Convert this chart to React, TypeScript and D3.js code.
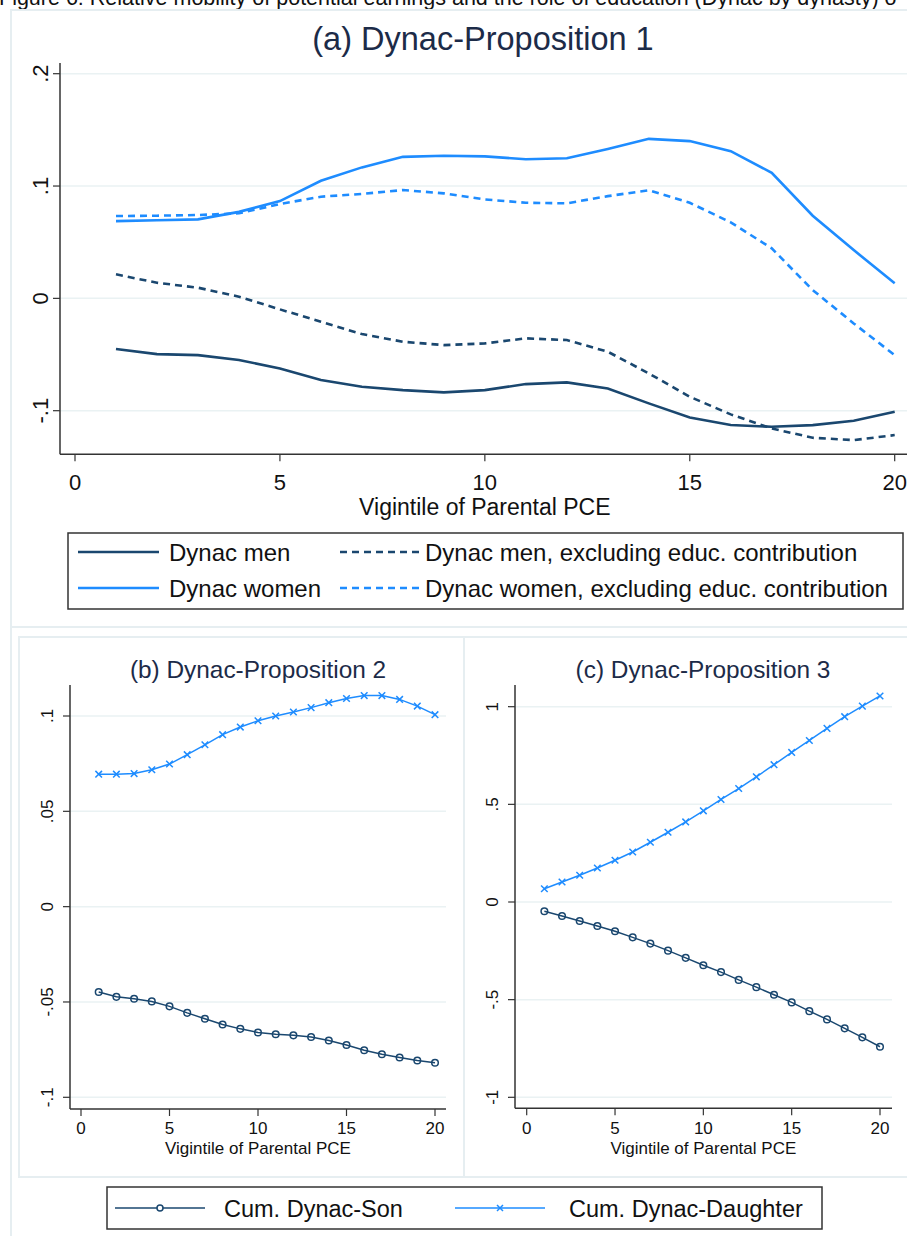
import React from "react";
import * as d3 from "d3";

const vigintiles = d3.range(1, 21);

// Panel (a)
const menA = [-0.0451, -0.0496, -0.0505, -0.0549, -0.0624, -0.0727, -0.0787, -0.0817, -0.0837, -0.0817, -0.0763, -0.0748, -0.0802, -0.0935, -0.106, -0.1128, -0.1143, -0.1128, -0.109, -0.101];
const menExA = [0.0214, 0.0139, 0.0095, 0.0015, -0.0098, -0.0208, -0.0318, -0.0386, -0.0416, -0.0401, -0.0356, -0.0371, -0.0475, -0.0668, -0.0876, -0.1033, -0.1158, -0.1241, -0.1262, -0.1217];
const womenA = [0.0688, 0.0695, 0.0703, 0.077, 0.0866, 0.1047, 0.1166, 0.126, 0.127, 0.1264, 0.1238, 0.1247, 0.133, 0.142, 0.14, 0.131, 0.1118, 0.0736, 0.043, 0.0134];
const womenExA = [0.0733, 0.0736, 0.0742, 0.0757, 0.084, 0.0905, 0.093, 0.0964, 0.0935, 0.0881, 0.0851, 0.0846, 0.091, 0.0962, 0.0851, 0.0677, 0.0445, 0.0074, -0.0223, -0.0505];

// Panel (b)
const sonB = [-0.0448, -0.0473, -0.0483, -0.0497, -0.0523, -0.0557, -0.0588, -0.0618, -0.0641, -0.066, -0.0669, -0.0675, -0.0684, -0.0702, -0.0726, -0.0753, -0.0774, -0.0791, -0.0807, -0.0819];
const daughterB = [0.0695, 0.0695, 0.0698, 0.0718, 0.0748, 0.0797, 0.0849, 0.0902, 0.0942, 0.0975, 0.1, 0.1021, 0.1044, 0.107, 0.1092, 0.1107, 0.1107, 0.1087, 0.1052, 0.1007];

// Panel (c)
const sonC = [-0.0477, -0.0716, -0.097, -0.123, -0.15, -0.181, -0.213, -0.249, -0.286, -0.324, -0.359, -0.399, -0.436, -0.475, -0.514, -0.559, -0.601, -0.647, -0.693, -0.741];
const daughterC = [0.068, 0.1026, 0.137, 0.174, 0.214, 0.256, 0.306, 0.357, 0.41, 0.467, 0.525, 0.581, 0.641, 0.703, 0.766, 0.827, 0.889, 0.949, 1.003, 1.055];

const xTicks = [0, 5, 10, 15, 20];
const yTicksA = [-0.1, 0, 0.1, 0.2];
const yTickLabelsA = ["-.1", "0", ".1", ".2"];
const yTicksB = [-0.1, -0.05, 0, 0.05, 0.1];
const yTickLabelsB = ["-.1", "-.05", "0", ".05", ".1"];
const yTicksC = [-1, -0.5, 0, 0.5, 1];
const yTickLabelsC = ["-1", "-.5", "0", ".5", "1"];

const NAVY = "#1a476f";
const BLUE = "#1e8cff";
const GRID = "#eaf2f3";
const FRAME = "#e6eef1";
const FONT = "'Liberation Sans', Arial, sans-serif";
const TITLE = "#1c2b48";

type PanelProps = {
  title: string;
  titleX: number;
  titleY: number;
  titleSize: number;
  x: d3.ScaleLinear<number, number>;
  y: d3.ScaleLinear<number, number>;
  axisLeft: number;
  axisBottom: number;
  axisTop: number;
  axisRight: number;
  yTicks: number[];
  yLabels: string[];
  tickFont: number;
  ylabX: number;
  xlabY: number;
  axisTitleY: number;
  axisTitleSize: number;
  children?: React.ReactNode;
};

function Panel(p: PanelProps) {
  return (
    <g>
      <text x={p.titleX} y={p.titleY} textAnchor="middle" fontSize={p.titleSize} fill={TITLE} fontFamily={FONT}>{p.title}</text>
      {p.yTicks.map((t, i) => (
        <g key={"g" + i}>
          <line x1={p.axisLeft} x2={p.axisRight} y1={p.y(t)} y2={p.y(t)} stroke={GRID} strokeWidth={1.5} />
          <line x1={p.axisLeft - 7} x2={p.axisLeft} y1={p.y(t)} y2={p.y(t)} stroke="#333" strokeWidth={1.2} />
          <text transform={`translate(${p.ylabX},${p.y(t)}) rotate(-90)`} textAnchor="middle" fontSize={p.tickFont} fill="#111" fontFamily={FONT}>{p.yLabels[i]}</text>
        </g>
      ))}
      {xTicks.map((t) => (
        <g key={"x" + t}>
          <line x1={p.x(t)} x2={p.x(t)} y1={p.axisBottom} y2={p.axisBottom + 7} stroke="#333" strokeWidth={1.2} />
          <text x={p.x(t)} y={p.xlabY} textAnchor="middle" fontSize={p.tickFont} fill="#111" fontFamily={FONT}>{t}</text>
        </g>
      ))}
      <line x1={p.axisLeft} x2={p.axisLeft} y1={p.axisTop} y2={p.axisBottom} stroke="#333" strokeWidth={1.5} />
      <line x1={p.axisLeft} x2={p.axisRight} y1={p.axisBottom} y2={p.axisBottom} stroke="#333" strokeWidth={1.5} />
      <text x={(p.x(0) + p.x(20)) / 2} y={p.axisTitleY} textAnchor="middle" fontSize={p.axisTitleSize} fill="#111" fontFamily={FONT}>Vigintile of Parental PCE</text>
      {p.children}
    </g>
  );
}

function XMark({ cx, cy, s, color }: { cx: number; cy: number; s: number; color: string }) {
  return (
    <path d={`M${cx - s},${cy - s}L${cx + s},${cy + s}M${cx - s},${cy + s}L${cx + s},${cy - s}`} stroke={color} strokeWidth={1.5} fill="none" />
  );
}

export default function App() {
  const xA = d3.scaleLinear().domain([0, 20]).range([75, 894.7]);
  const yA = d3.scaleLinear().domain([-0.1, 0.2]).range([410.7, 73.7]);
  const lineA = (vals: number[]) =>
    d3.line<number>().x((_, i) => xA(vigintiles[i])).y((d) => yA(d))(vals) || "";

  const xB = d3.scaleLinear().domain([0, 20]).range([81, 435]);
  const yB = d3.scaleLinear().domain([-0.1, 0.1]).range([1097.3, 716]);
  const lineB = (vals: number[]) =>
    d3.line<number>().x((_, i) => xB(vigintiles[i])).y((d) => yB(d))(vals) || "";

  const xC = d3.scaleLinear().domain([0, 20]).range([526.7, 880]);
  const yC = d3.scaleLinear().domain([-1, 1]).range([1097.3, 706.7]);
  const lineC = (vals: number[]) =>
    d3.line<number>().x((_, i) => xC(vigintiles[i])).y((d) => yC(d))(vals) || "";

  const legendA = [
    { label: "Dynac men", color: NAVY, dash: "", x: 78, tx: 169, y: 552 },
    { label: "Dynac women", color: BLUE, dash: "", x: 78, tx: 169, y: 588 },
    { label: "Dynac men, excluding educ. contribution", color: NAVY, dash: "7,5", x: 340, tx: 425, y: 552 },
    { label: "Dynac women, excluding educ. contribution", color: BLUE, dash: "7,5", x: 340, tx: 425, y: 588 },
  ];

  return (
    <svg width={907} height={1236} style={{ position: "absolute", left: 0, top: 0, background: "#fff" }} fontFamily={FONT}>
      <rect x={0} y={0} width={907} height={1236} fill="#fff" />
      <text x={-1} y={5} fontSize={21.5} fill="#111" fontFamily={FONT}>Figure 6: Relative mobility of potential earnings and the role of education (Dynac by dynasty) o</text>

      {/* frames */}
      <rect x={11} y={10} width={920} height={617} fill="#fff" stroke={FRAME} strokeWidth={2} />
      <rect x={11} y={627} width={920} height={640} fill="#fff" stroke={FRAME} strokeWidth={2} />
      <rect x={19} y={637} width={445} height={540} fill="#fff" stroke={FRAME} strokeWidth={2} />
      <rect x={464} y={637} width={460} height={540} fill="#fff" stroke={FRAME} strokeWidth={2} />

      {/* Panel a */}
      <Panel title="(a) Dynac-Proposition 1" titleX={483} titleY={50} titleSize={32.5} x={xA} y={yA}
        axisLeft={60} axisBottom={454.3} axisTop={63} axisRight={910} yTicks={yTicksA} yLabels={yTickLabelsA}
        tickFont={22} ylabX={48} xlabY={490} axisTitleY={515} axisTitleSize={23}>
        <path d={lineA(menA)} stroke={NAVY} strokeWidth={2.6} fill="none" />
        <path d={lineA(menExA)} stroke={NAVY} strokeWidth={2.6} fill="none" strokeDasharray="7,5" />
        <path d={lineA(womenA)} stroke={BLUE} strokeWidth={2.6} fill="none" />
        <path d={lineA(womenExA)} stroke={BLUE} strokeWidth={2.6} fill="none" strokeDasharray="7,5" />
      </Panel>

      {/* Legend a */}
      <rect x={68} y={533} width={835} height={76} fill="#fff" stroke="#333" strokeWidth={1.5} />
      {legendA.map((l) => (
        <g key={l.label}>
          <line x1={l.x} x2={l.x + 81} y1={l.y} y2={l.y} stroke={l.color} strokeWidth={2.6} strokeDasharray={l.dash || undefined} />
          <text x={l.tx} y={l.y + 8.5} fontSize={24} fill="#111" fontFamily={FONT}>{l.label}</text>
        </g>
      ))}

      {/* Panel b */}
      <Panel title="(b) Dynac-Proposition 2" titleX={258} titleY={678} titleSize={24.4} x={xB} y={yB}
        axisLeft={70} axisBottom={1109} axisTop={685} axisRight={446} yTicks={yTicksB} yLabels={yTickLabelsB}
        tickFont={17} ylabX={53} xlabY={1134} axisTitleY={1154} axisTitleSize={17}>
        <path d={lineB(daughterB)} stroke={BLUE} strokeWidth={1.5} fill="none" />
        {daughterB.map((v, i) => <XMark key={"bd" + i} cx={xB(vigintiles[i])} cy={yB(v)} s={3.3} color={BLUE} />)}
        <path d={lineB(sonB)} stroke={NAVY} strokeWidth={1.5} fill="none" />
        {sonB.map((v, i) => <circle key={"bs" + i} cx={xB(vigintiles[i])} cy={yB(v)} r={3.3} stroke={NAVY} strokeWidth={1.5} fill="none" />)}
      </Panel>

      {/* Panel c */}
      <Panel title="(c) Dynac-Proposition 3" titleX={703} titleY={678} titleSize={24.4} x={xC} y={yC}
        axisLeft={515} axisBottom={1108.3} axisTop={685} axisRight={892} yTicks={yTicksC} yLabels={yTickLabelsC}
        tickFont={17} ylabX={498} xlabY={1134} axisTitleY={1154} axisTitleSize={17}>
        <path d={lineC(daughterC)} stroke={BLUE} strokeWidth={1.5} fill="none" />
        {daughterC.map((v, i) => <XMark key={"cd" + i} cx={xC(vigintiles[i])} cy={yC(v)} s={3.3} color={BLUE} />)}
        <path d={lineC(sonC)} stroke={NAVY} strokeWidth={1.5} fill="none" />
        {sonC.map((v, i) => <circle key={"cs" + i} cx={xC(vigintiles[i])} cy={yC(v)} r={3.3} stroke={NAVY} strokeWidth={1.5} fill="none" />)}
      </Panel>

      {/* Bottom legend */}
      <rect x={107} y={1187} width={715} height={42} fill="#fff" stroke="#333" strokeWidth={1.5} />
      <line x1={115} x2={205} y1={1208} y2={1208} stroke={NAVY} strokeWidth={1.5} />
      <circle cx={160} cy={1208} r={3} stroke={NAVY} strokeWidth={1.5} fill="#fff" />
      <text x={224} y={1216.5} fontSize={23.5} fill="#111" fontFamily={FONT}>Cum. Dynac-Son</text>
      <line x1={455} x2={545} y1={1208} y2={1208} stroke={BLUE} strokeWidth={1.5} />
      <XMark cx={500} cy={1208} s={3} color={BLUE} />
      <text x={569} y={1216.5} fontSize={23.5} fill="#111" fontFamily={FONT}>Cum. Dynac-Daughter</text>
    </svg>
  );
}
